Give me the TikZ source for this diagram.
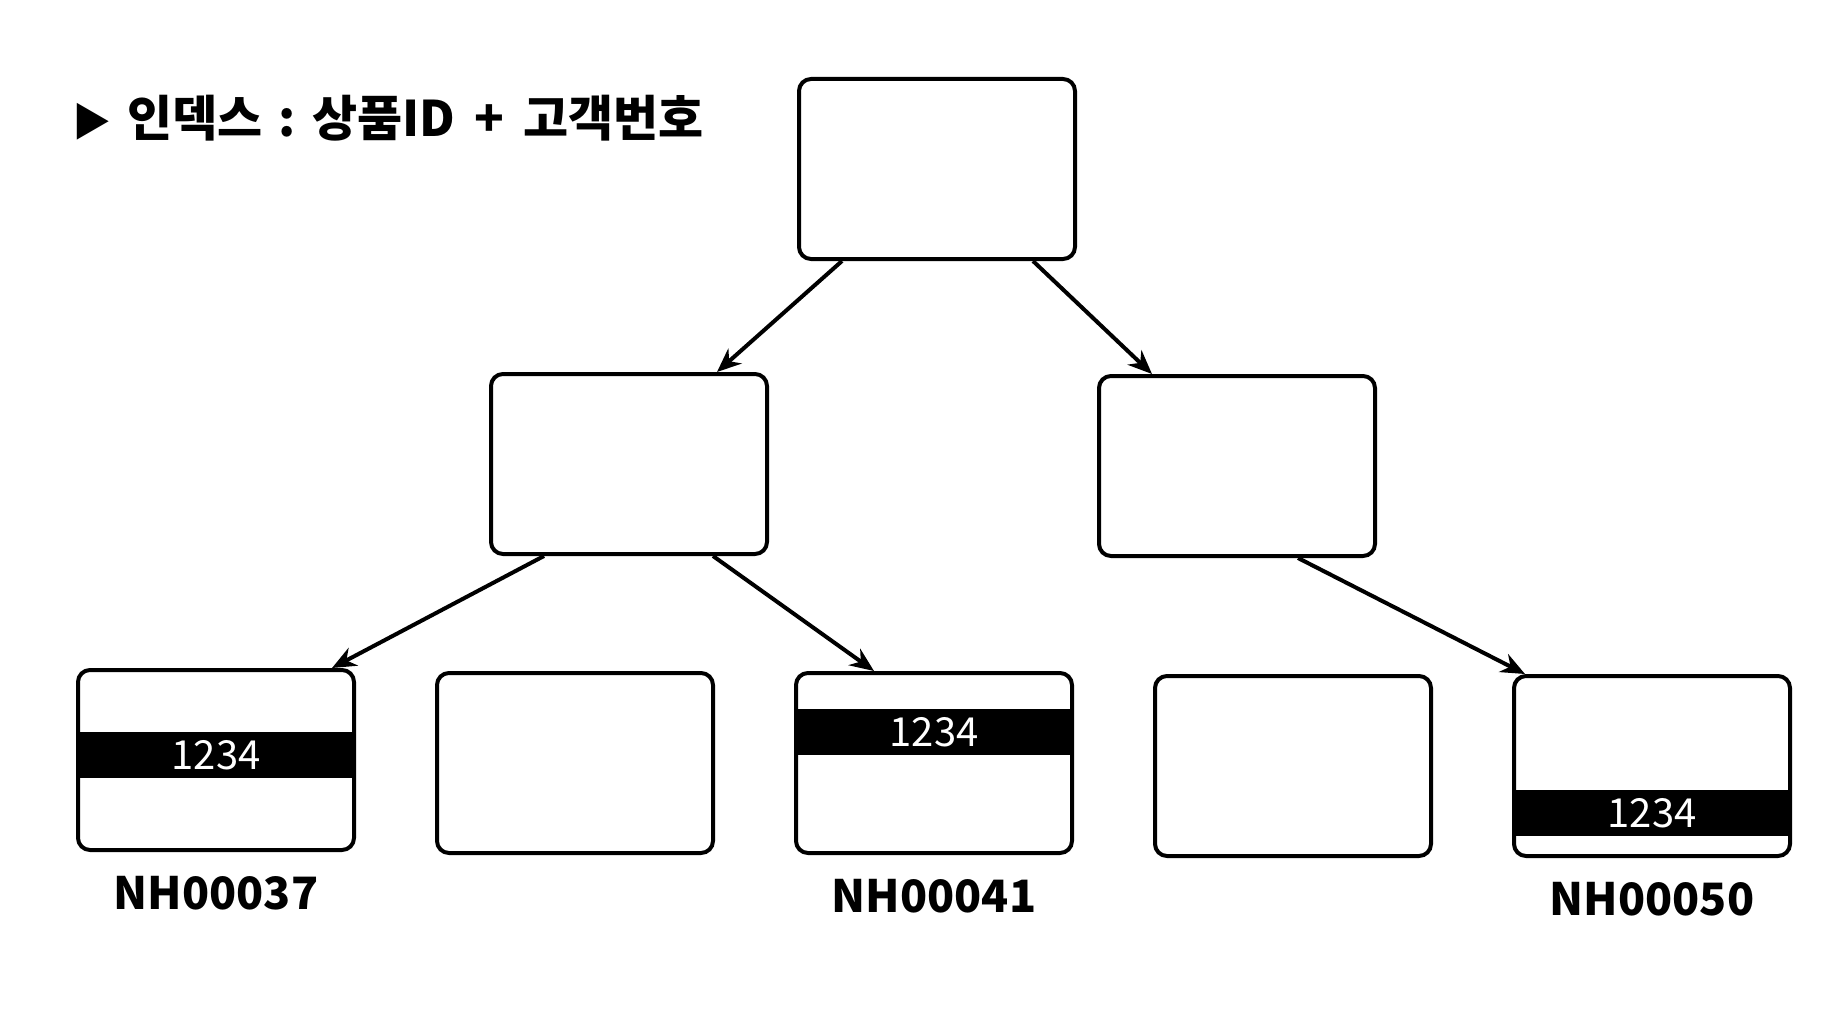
\documentclass[tikz,border=0pt]{standalone}
\usepackage{fontspec}
\usepackage{graphicx}
\setmainfont{Noto Sans}
\newfontfamily\kofont{Noto Sans CJK KR}
\usetikzlibrary{arrows.meta,positioning,calc}

\begin{document}
\begin{tikzpicture}[x=0.5pt,y=-0.5pt,node distance=39.5pt,
  box/.style={draw,line width=2pt,rounded corners=6pt,fill=white,minimum width=138pt,minimum height=90pt},
  bar/.style={fill=black,text=white,minimum width=140pt,minimum height=23pt,inner sep=0pt,font=\kofont\fontsize{20}{20}\selectfont},
  lbl/.style={inner sep=0pt,font=\kofont\bfseries\fontsize{22.3}{22.3}\selectfont},
  arr/.style={-{Stealth[length=12pt,width=10pt]},line width=2pt}]
\useasboundingbox (0,0) rectangle (1844,1022);
% title
\node[anchor=west,inner sep=0pt,font=\kofont\bfseries\fontsize{24.5}{24.5}\selectfont] (title) at (72,118)
  {\scalebox{0.8}{▶}\hspace{8pt}인덱스\hspace{2pt} : \hspace{1pt}상품ID\hspace{4pt} + \hspace{4pt}고객번호};
% tree
\node[box] (root) at (937,169) {};
\node[box] (midl) at (629,464) {};
\node[box] (midr) at (1237,466) {};
\node[box] (leaf1) at (216,760) {};
\node[box,right=of leaf1,yshift=-1.5pt] (leaf2) {};
\node[box,right=of leaf2] (leaf3) {};
\node[box,right=of leaf3,yshift=-1.5pt] (leaf4) {};
\node[box,right=of leaf4] (leaf5) {};
% index bars
\node[bar] (bar1) at ($(leaf1.center)+(0,-5)$) {1234};
\node[bar] (bar3) at ($(leaf3.center)+(0,-31)$) {1234};
\node[bar] (bar5) at ($(leaf5.center)+(0,47)$) {1234};
\node[lbl,below=12pt of leaf1] (id1) {NH00037};
\node[lbl,below=12pt of leaf3] (id3) {NH00041};
\node[lbl,below=12pt of leaf5] (id5) {NH00050};
\draw[arr] ($(root.south)+(-95,0)$) -- ($(midl.north)+(88,0)$);
\draw[arr] ($(root.south)+(96,0)$) -- ($(midr.north)+(-85,0)$);
\draw[arr] ($(midl.south)+(-85,0)$) -- ($(leaf1.north)+(116,0)$);
\draw[arr] ($(midl.south)+(84,0)$) -- ($(leaf3.north)+(-60,0)$);
\draw[arr] ($(midr.south)+(61,0)$) -- ($(leaf5.north)+(-127,0)$);
\end{tikzpicture}
\end{document}
